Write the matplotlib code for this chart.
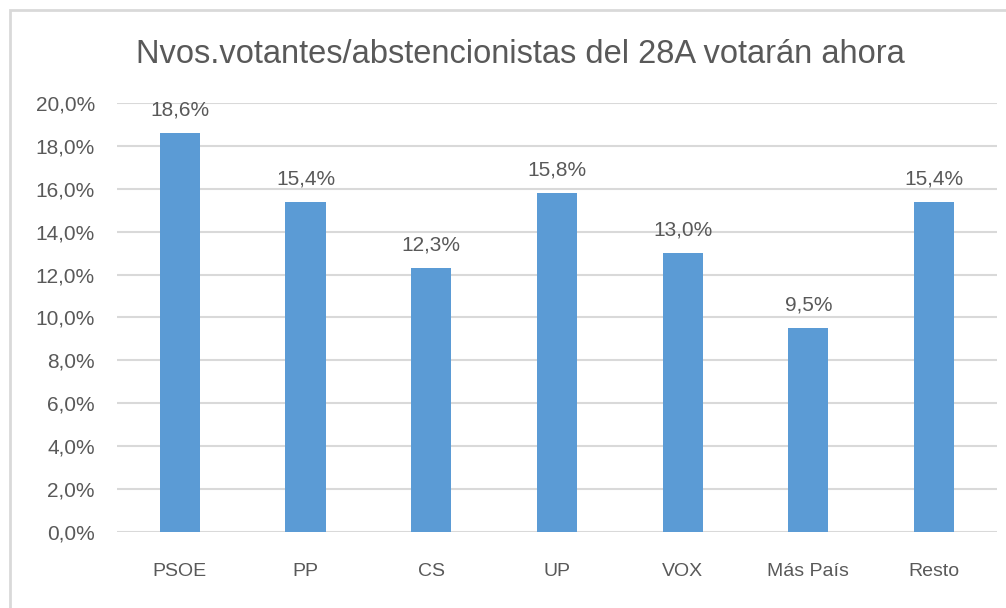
import matplotlib
matplotlib.use('Agg')
import matplotlib.pyplot as plt
from matplotlib.patches import Rectangle

# datos
partidos = ['PSOE', 'PP', 'CS', 'UP', 'VOX', 'Más País', 'Resto']
valores = [18.6, 15.4, 12.3, 15.8, 13.0, 9.5, 15.4]
titulo = 'Nvos.votantes/abstencionistas del 28A votarán ahora'
yticks = [0, 2, 4, 6, 8, 10, 12, 14, 16, 18, 20]

plt.rcParams['font.family'] = ['Liberation Sans Narrow', 'Liberation Sans', 'DejaVu Sans']
gris = '#595959'
azul = '#5B9BD5'

fig = plt.figure(figsize=(10.06, 6.08), dpi=100)
ax = fig.add_axes([0.1163, 0.125, 0.8747, 0.7056])

x = range(len(partidos))
ax.bar(x, valores, width=0.32, color=azul, zorder=3)
for i, v in zip(x, valores):
    ax.text(i, v + 0.62, f'{v:.1f}%'.replace('.', ','), ha='center', va='bottom',
            fontsize=15, color=gris)

ax.set_xlim(-0.5, len(partidos) - 0.5)
ax.set_ylim(0, 20)
ax.set_yticks(yticks)
ax.set_yticklabels([f'{t:.1f}%'.replace('.', ',') for t in yticks])
ax.set_xticks(list(x))
ax.set_xticklabels(partidos)
ax.tick_params(axis='both', length=0, labelcolor=gris)
ax.tick_params(axis='y', labelsize=15, pad=16)
ax.tick_params(axis='x', labelsize=14, pad=22)
ax.grid(axis='y', color='#d9d9d9', linewidth=1.5, zorder=0)
for s in ax.spines.values():
    s.set_visible(False)

fig.text(0.517, 0.91, titulo, ha='center', va='center', fontsize=23.5, color=gris)

# marco del gráfico
fig.patches.append(Rectangle((10 / 1006, -0.1), 1.2, (598 + 0.1 * 608) / 608,
                             transform=fig.transFigure, fill=False,
                             edgecolor='#d9d9d9', linewidth=2, figure=fig))

fig.savefig('out.png', dpi=100)
